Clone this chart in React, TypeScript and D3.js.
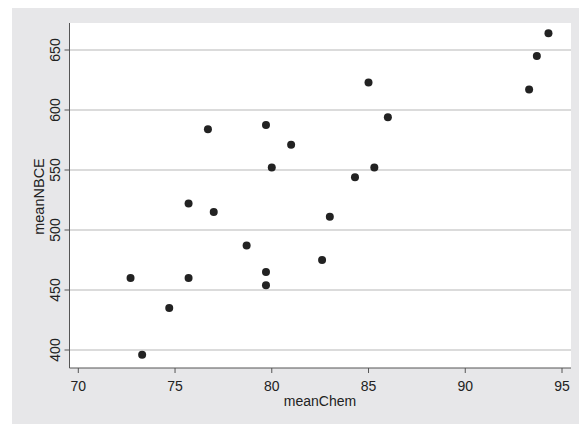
import React from 'react';
import * as d3 from 'd3';

const meanChem = [73.3, 72.7, 74.7, 75.7, 75.7, 77.0, 76.7, 78.7, 79.7, 79.7, 79.7, 80.0, 81.0, 82.6, 83.0, 84.3, 85.0, 85.3, 86.0, 93.3, 93.7, 94.3];
const meanNBCE = [396, 460, 435, 460, 522, 515, 584, 487, 587.5, 465, 454, 552, 571, 475, 511, 544, 623, 552, 594, 617, 645, 664];
const xTicks = [70, 75, 80, 85, 90, 95];
const yTicks = [400, 450, 500, 550, 600, 650];

const W = 579;
const H = 424;
const plot = { left: 69.5, right: 571, top: 23, bottom: 368 };

const App = () => {
  const x = d3.scaleLinear().domain([70, 95]).range([78.3, 562]);
  const y = d3.scaleLinear().domain([400, 650]).range([350, 50]);
  const font = 'Liberation Sans, Arial, sans-serif';

  return (
    <svg width={W} height={H} style={{ position: 'absolute', left: 0, top: 0 }}>
      <rect x={0} y={0} width={W} height={H} fill="#fff" />
      <rect x={12} y={8} width={W - 12} height={H - 8} fill="#e7e7e9" />
      <rect x={plot.left} y={plot.top} width={plot.right - plot.left} height={plot.bottom - plot.top} fill="#fff" />

      {/* grid */}
      {yTicks.map(t => (
        <line key={'g' + t} x1={plot.left} x2={plot.right} y1={y(t)} y2={y(t)} stroke="#cfcfcf" strokeWidth={1.5} />
      ))}

      {/* points */}
      {meanChem.map((v, i) => (
        <circle key={i} cx={x(v)} cy={y(meanNBCE[i])} r={4} fill="#222" />
      ))}

      {/* y axis */}
      <line x1={plot.left} x2={plot.left} y1={plot.top} y2={plot.bottom} stroke="#555" strokeWidth={1} />
      {yTicks.map(t => (
        <g key={'y' + t}>
          <line x1={plot.left - 5} x2={plot.left} y1={y(t)} y2={y(t)} stroke="#555" />
          <text x={60} y={y(t)} transform={`rotate(-90, 60, ${y(t)})`} textAnchor="middle" fontFamily={font} fontSize={14} fill="#222">{t}</text>
        </g>
      ))}
      <text x={44} y={196.5} transform="rotate(-90, 44, 196.5)" textAnchor="middle" fontFamily={font} fontSize={14.5} fill="#222">meanNBCE</text>

      {/* x axis */}
      <line x1={plot.left} x2={plot.right} y1={plot.bottom} y2={plot.bottom} stroke="#555" strokeWidth={1} />
      {xTicks.map(t => (
        <g key={'x' + t}>
          <line x1={x(t)} x2={x(t)} y1={plot.bottom} y2={plot.bottom + 5} stroke="#555" />
          <text x={x(t)} y={391} textAnchor="middle" fontFamily={font} fontSize={14} fill="#222">{t}</text>
        </g>
      ))}
      <text x={320} y={405.5} textAnchor="middle" fontFamily={font} fontSize={14} fill="#222">meanChem</text>
    </svg>
  );
};

export default App;
